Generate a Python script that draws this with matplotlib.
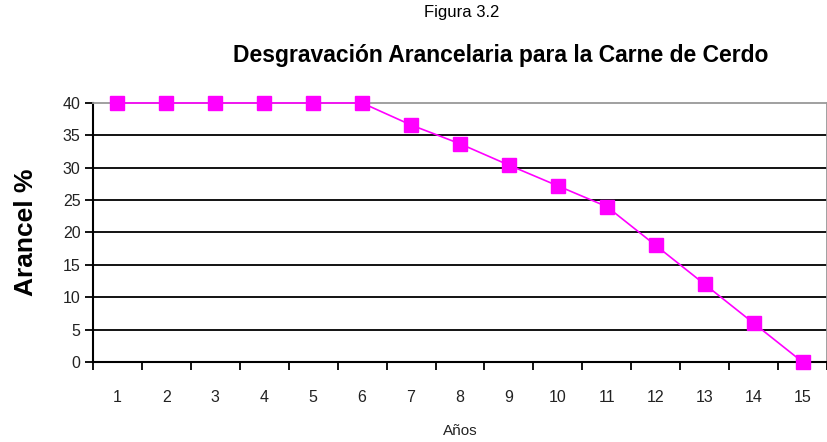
import matplotlib.pyplot as plt
import numpy as np

# Desgravación arancelaria - carne de cerdo
anios = list(range(1, 16))
arancel = [40, 40, 40, 40, 40, 40, 36.6, 33.7, 30.4, 27.2, 24.0, 18.0, 12.0, 6.0, 0]
y_ticks = [0, 5, 10, 15, 20, 25, 30, 35, 40]

plt.rcParams['font.family'] = ['Liberation Sans', 'DejaVu Sans']

fig = plt.figure(figsize=(8.28, 4.42), dpi=100)
ax = fig.add_axes([0.1123, 0.181, 0.8865, 0.586])

# grid lines
for v in y_ticks[1:-1]:
    ax.axhline(v, color='black', linewidth=1.3, zorder=1)

ax.plot(anios, arancel, color='#ff00ff', linewidth=1.2, marker='s',
        markersize=10, markerfacecolor='#ff00ff', markeredgecolor='#ff00ff', zorder=3,
        clip_on=False)

ax.set_xlim(0.5, 15.5)
ax.set_ylim(0, 40)
ax.set_yticks(y_ticks)
ax.set_xticks(anios)
ax.set_xticks(np.arange(0.5, 16, 1), minor=True)
ax.tick_params(axis='x', which='major', length=0, pad=20, labelsize=11.5, labelcolor='#222222')
ax.tick_params(axis='x', which='minor', length=6, width=1.3, direction='out')
ax.tick_params(axis='y', length=6, width=1.3, direction='out', labelsize=11.5,
               labelcolor='#222222', pad=3)

for side in ['top', 'right']:
    ax.spines[side].set_color('#999999')
    ax.spines[side].set_linewidth(1.3)
for side in ['left', 'bottom']:
    ax.spines[side].set_color('black')
    ax.spines[side].set_linewidth(1.5)

ax.set_ylabel('Arancel %', fontsize=19, fontweight='bold')
ax.yaxis.set_label_coords(-0.075, 0.5)
ax.set_xlabel('Años', fontsize=11, color='#222222')
ax.xaxis.set_label_coords(0.5, -0.24)

fig.text(0.558, 0.972, 'Figura 3.2', ha='center', va='center', fontsize=12,
         family=['Liberation Sans Narrow', 'Liberation Sans', 'DejaVu Sans'])
fig.text(0.605, 0.875, 'Desgravación Arancelaria para la Carne de Cerdo', ha='center',
         va='center', fontsize=16.5, fontweight='bold')

fig.savefig('out.png', dpi=100)
